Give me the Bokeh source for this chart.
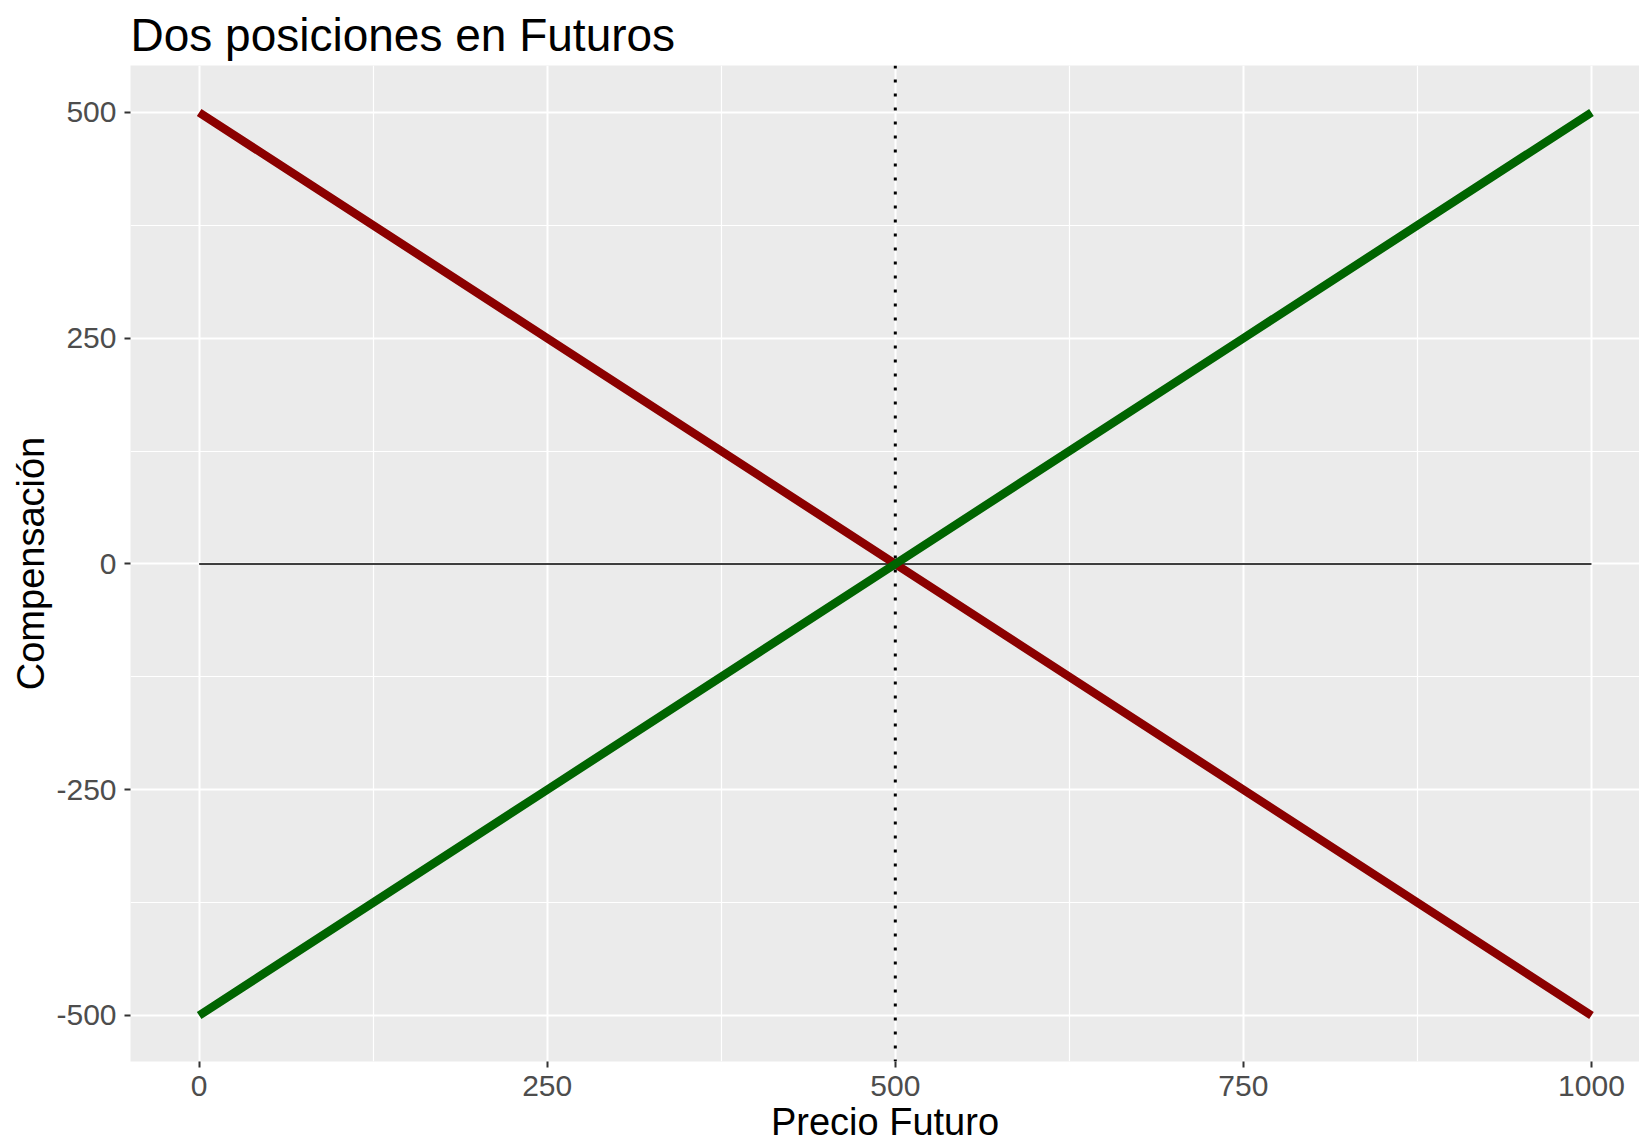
from bokeh.plotting import figure
from bokeh.models import FixedTicker, Span, Range1d, CustomJSTickFormatter
from bokeh.embed import file_html
from bokeh.resources import INLINE

# data
precio = [0, 250, 500, 750, 1000]
largo = [-500, -250, 0, 250, 500]
corto = [500, 250, 0, -250, -500]
cero = [0, 0, 0, 0, 0]
x_ticks = [0, 250, 500, 750, 1000]
x_minor = [125, 375, 625, 875]
y_ticks = [-500, -250, 0, 250, 500]
y_minor = [-375, -125, 125, 375]

FONT = "Liberation Sans"

p = figure(width=1639, height=1145, output_backend="svg", toolbar_location=None,
           x_range=Range1d(-49.3, 1034.5), y_range=Range1d(-551, 552),
           title="Dos posiciones en Futuros",
           x_axis_label="Precio Futuro", y_axis_label="Compensación",
           min_border_left=130, min_border_top=65, min_border_right=0, min_border_bottom=60)

p.background_fill_color = "#EBEBEB"
p.border_fill_color = "white"
p.outline_line_color = None

p.title.text_font = FONT
p.title.text_font_size = "46px"
p.title.text_font_style = "normal"
p.title.text_color = "black"
p.title.offset = 0
p.title.standoff = 10

p.xaxis.ticker = FixedTicker(ticks=x_ticks, minor_ticks=x_minor)
p.yaxis.ticker = FixedTicker(ticks=y_ticks, minor_ticks=y_minor)

for ax in (p.xaxis, p.yaxis):
    ax.formatter = CustomJSTickFormatter(code="return tick.toString();")
    ax.axis_line_color = None
    ax.major_tick_line_color = "#333333"
    ax.major_tick_line_width = 2
    ax.major_tick_out = 6
    ax.major_tick_in = 0
    ax.minor_tick_line_color = None
    ax.major_label_text_font = FONT
    ax.major_label_text_font_size = "30px"
    ax.major_label_text_color = "#4D4D4D"
    ax.axis_label_text_font = FONT
    ax.axis_label_text_font_size = "38px"
    ax.axis_label_text_font_style = "normal"
    ax.axis_label_text_color = "black"

p.xaxis.major_label_standoff = 8
p.xaxis.axis_label_standoff = 2
p.yaxis.major_label_standoff = 8
p.yaxis.axis_label_standoff = 1

for g in (p.xgrid, p.ygrid):
    g.grid_line_color = "white"
    g.grid_line_width = 2
    g.minor_grid_line_color = "white"
    g.minor_grid_line_width = 1.2

# zero line
p.line(precio, cero, line_color="black", line_width=1.6)

# positions
p.line(precio, corto, line_color="#8B0000", line_width=8.5, line_cap="butt")
p.line(precio, largo, line_color="#006400", line_width=8.5, line_cap="butt")

# dotted vertical line at strike
p.add_layout(Span(location=500, dimension="height", line_color="black",
                  line_width=3, line_dash="3 11"))

open("out.html", "w").write(file_html(p, INLINE))
